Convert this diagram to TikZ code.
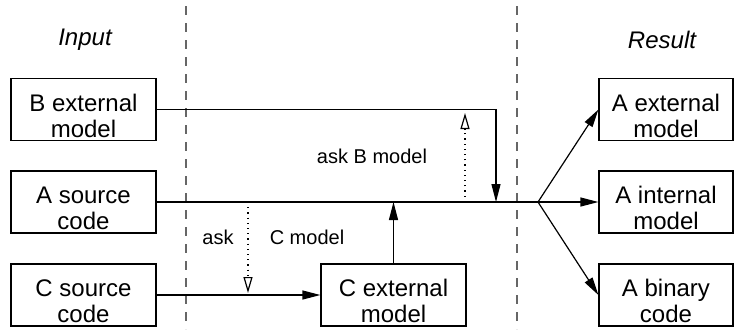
\documentclass[tikz,border=0pt]{standalone}
\usepackage{fontspec}
\setmainfont{Liberation Sans}
\usetikzlibrary{arrows.meta}

\begin{document}
\begin{tikzpicture}[x=0.5pt,y=-0.5pt,
    every node/.style={font=\fontsize{12}{13}\selectfont},
    box/.style={draw,line width=0.6pt,inner sep=0pt,align=center,minimum width=72.5pt,minimum height=31pt,
      text height=27.5pt,text depth=0pt},
    rbox/.style={box,minimum width=67pt},
    small/.style={font=\fontsize{10}{12}\selectfont},
    flow/.style={line width=0.6pt,-{Triangle[length=9pt,width=4.5pt]}},
    ask/.style={line width=0.6pt,dotted,-{Triangle[open,length=8pt,width=4.5pt]}},
    border/.style={gray!80!black,line width=0.6pt,dash pattern=on 4.5pt off 4pt}]
          \useasboundingbox (0,0) rectangle (734,329);

          % columns
          \draw[border] (186,6) -- (186,329);
          \draw[border] (517,6) -- (517,329);
          \node at (85,40) {\itshape Input};
          \node at (662,40) {\itshape Result};

          % input models
          \node[box] (bext) at (83.5,109.5) {B external\\model};
          \node[box] (asrc) at (83.5,202) {A source\\code};
          \node[box] (csrc) at (83.5,295) {C source\\code};
          \node[box] (cext) at (393.5,295) {C external\\model};

          % results
          \node[rbox] (aext) at (666,109.5) {A external\\model};
          \node[rbox] (aint) at (666,202) {A internal\\model};
          \node[rbox] (abin) at (666,295) {A binary\\code};

          \coordinate (split) at (538,202);
          \coordinate (bjoin) at (496,202);
          \coordinate (cjoin) at (393.5,202);
          \coordinate (askb) at (465,202);
          \coordinate (askbtip) at (465,113);
          \coordinate (askc) at (248,202);
          \coordinate (askctip) at (248,293);

          \draw[line width=0.6pt] (asrc.east) -- (split);
          \draw[flow] (bext.east) -| (bjoin);
          \draw[flow] (cext.north) -- (cjoin);
          \draw[flow] (csrc.east) -- (cext.west);
          \draw[flow] (split) -- (aext.west);
          \draw[flow] (split) -- (aint.west);
          \draw[flow] (split) -- (abin.west);

          \draw[ask] (askb) -- (askbtip);
          \draw[ask] (askc) -- (askctip);
          \node[small] at (372,156) {ask B model};
          \node[small] at (218,237) {ask};
          \node[small] at (307,237) {C model};
    \end{tikzpicture}
\end{document}
